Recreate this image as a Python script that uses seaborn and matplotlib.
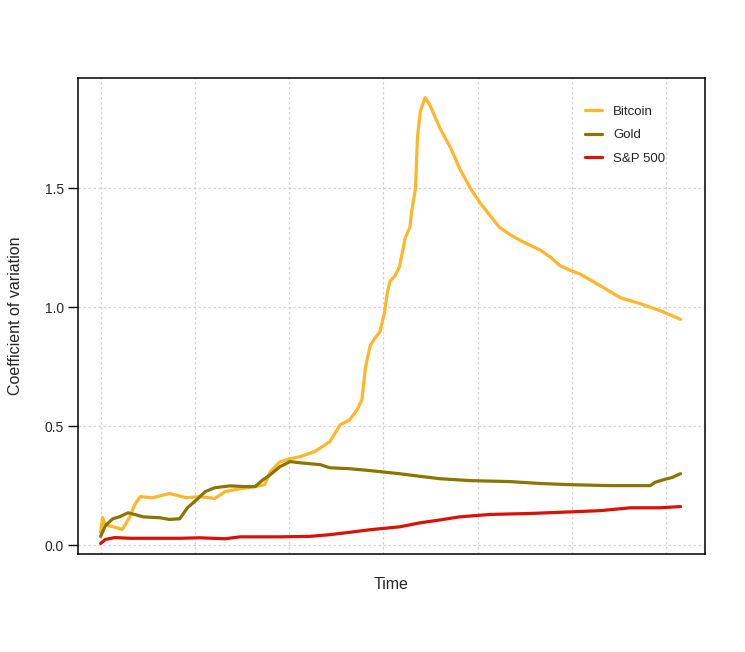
import matplotlib
matplotlib.use("Agg")
import matplotlib.pyplot as plt
import seaborn as sns
import pandas as pd

# Values (time in grid units, 1 unit = one vertical gridline step)
btc_t = [0.00, 0.02, 0.05, 0.12, 0.23, 0.31, 0.36, 0.42, 0.55, 0.73, 0.91, 1.05, 1.21, 1.32,
         1.48, 1.64, 1.74, 1.80, 1.90, 2.01, 2.11, 2.27, 2.43, 2.54, 2.64, 2.72, 2.77, 2.81,
         2.86, 2.91, 2.96, 3.01, 3.04, 3.07, 3.12, 3.17, 3.23, 3.28, 3.30, 3.34, 3.36, 3.39,
         3.44, 3.49, 3.60, 3.71, 3.81, 3.92, 4.02, 4.13, 4.23, 4.34, 4.45, 4.66, 4.77, 4.87,
         4.98, 5.08, 5.30, 5.51, 5.72, 5.93, 6.15]
btc_cv = [0.054, 0.117, 0.085, 0.080, 0.067, 0.120, 0.170, 0.205, 0.200, 0.218, 0.200, 0.205,
          0.197, 0.226, 0.238, 0.247, 0.255, 0.310, 0.350, 0.364, 0.372, 0.394, 0.435, 0.506,
          0.527, 0.569, 0.610, 0.750, 0.840, 0.870, 0.895, 0.975, 1.060, 1.110, 1.130, 1.170,
          1.290, 1.335, 1.405, 1.500, 1.710, 1.820, 1.880, 1.850, 1.750, 1.670, 1.580, 1.500,
          1.440, 1.385, 1.335, 1.305, 1.280, 1.240, 1.210, 1.175, 1.155, 1.140, 1.090, 1.040,
          1.015, 0.986, 0.949]

gold_t = [0.00, 0.05, 0.13, 0.20, 0.29, 0.36, 0.45, 0.63, 0.73, 0.84, 0.92, 1.00, 1.11, 1.21,
          1.37, 1.53, 1.64, 1.71, 1.80, 1.90, 2.01, 2.11, 2.33, 2.43, 2.64, 2.86, 3.17, 3.39,
          3.60, 3.92, 4.34, 4.66, 4.98, 5.40, 5.83, 5.88, 5.99, 6.06, 6.15]
gold_cv = [0.038, 0.083, 0.112, 0.120, 0.137, 0.130, 0.120, 0.116, 0.109, 0.112, 0.158, 0.185,
           0.226, 0.242, 0.250, 0.247, 0.247, 0.272, 0.297, 0.330, 0.352, 0.347, 0.339, 0.326,
           0.322, 0.314, 0.301, 0.290, 0.280, 0.272, 0.268, 0.260, 0.255, 0.251, 0.251, 0.265,
           0.278, 0.285, 0.301]

sp_t = [0.00, 0.05, 0.15, 0.31, 0.84, 1.05, 1.32, 1.48, 1.90, 2.22, 2.43, 2.64, 2.86, 3.17,
        3.39, 3.60, 3.81, 4.13, 4.55, 4.87, 5.30, 5.62, 5.93, 6.15]
sp_cv = [0.008, 0.025, 0.033, 0.030, 0.030, 0.032, 0.028, 0.036, 0.036, 0.038, 0.045, 0.055,
         0.066, 0.078, 0.095, 0.107, 0.120, 0.130, 0.134, 0.139, 0.146, 0.158, 0.158, 0.163]

series = ["Bitcoin", "Gold", "S&P 500"]
colors = {"Bitcoin": "#FFB62A", "Gold": "#8B7500", "S&P 500": "#D81205"}

df = pd.concat([
    pd.DataFrame({"Time": btc_t, "cv": btc_cv, "asset": "Bitcoin"}),
    pd.DataFrame({"Time": gold_t, "cv": gold_cv, "asset": "Gold"}),
    pd.DataFrame({"Time": sp_t, "cv": sp_cv, "asset": "S&P 500"}),
], ignore_index=True)

sns.set_theme(style="white")
plt.rcParams['font.family'] = ['Liberation Sans', 'DejaVu Sans']

fig = plt.figure(figsize=(7.45, 6.52), dpi=100)
ax = fig.add_axes([78 / 745, 1 - 554 / 652, 627 / 745, 476 / 652])

sns.lineplot(data=df, x="Time", y="cv", hue="asset", hue_order=series, palette=colors,
             estimator=None, sort=False, linewidth=2.3, ax=ax)

ax.set_xlim(-0.24, 6.41)
ax.set_ylim(-0.036, 1.962)
ax.set_xticks(range(7))
ax.set_xticklabels([])
ax.tick_params(axis="x", length=0)
ax.set_yticks([0.0, 0.5, 1.0, 1.5])
ax.set_yticklabels(["0.0", "0.5", "1.0", "1.5"])
ax.tick_params(axis="y", direction="out", length=7, width=1, color="black",
               labelsize=10, pad=3, left=True)
ax.grid(True, color="#D3D3D3", linestyle=(0, (2, 2)), linewidth=0.9)
for s in ax.spines.values():
    s.set_color("black")
    s.set_linewidth(1.1)

ax.set_xlabel("Time", fontsize=11.5, labelpad=13)
ax.set_ylabel("Coefficient of variation", fontsize=11.5, labelpad=16)

leg = ax.legend(loc="upper left", bbox_to_anchor=(0.79, 0.967), frameon=False,
                fontsize=9.5, handlelength=1.25, handletextpad=0.85, labelspacing=0.85)
for line in leg.get_lines():
    line.set_linewidth(2.3)

fig.savefig("out.png", dpi=100, facecolor="white")
